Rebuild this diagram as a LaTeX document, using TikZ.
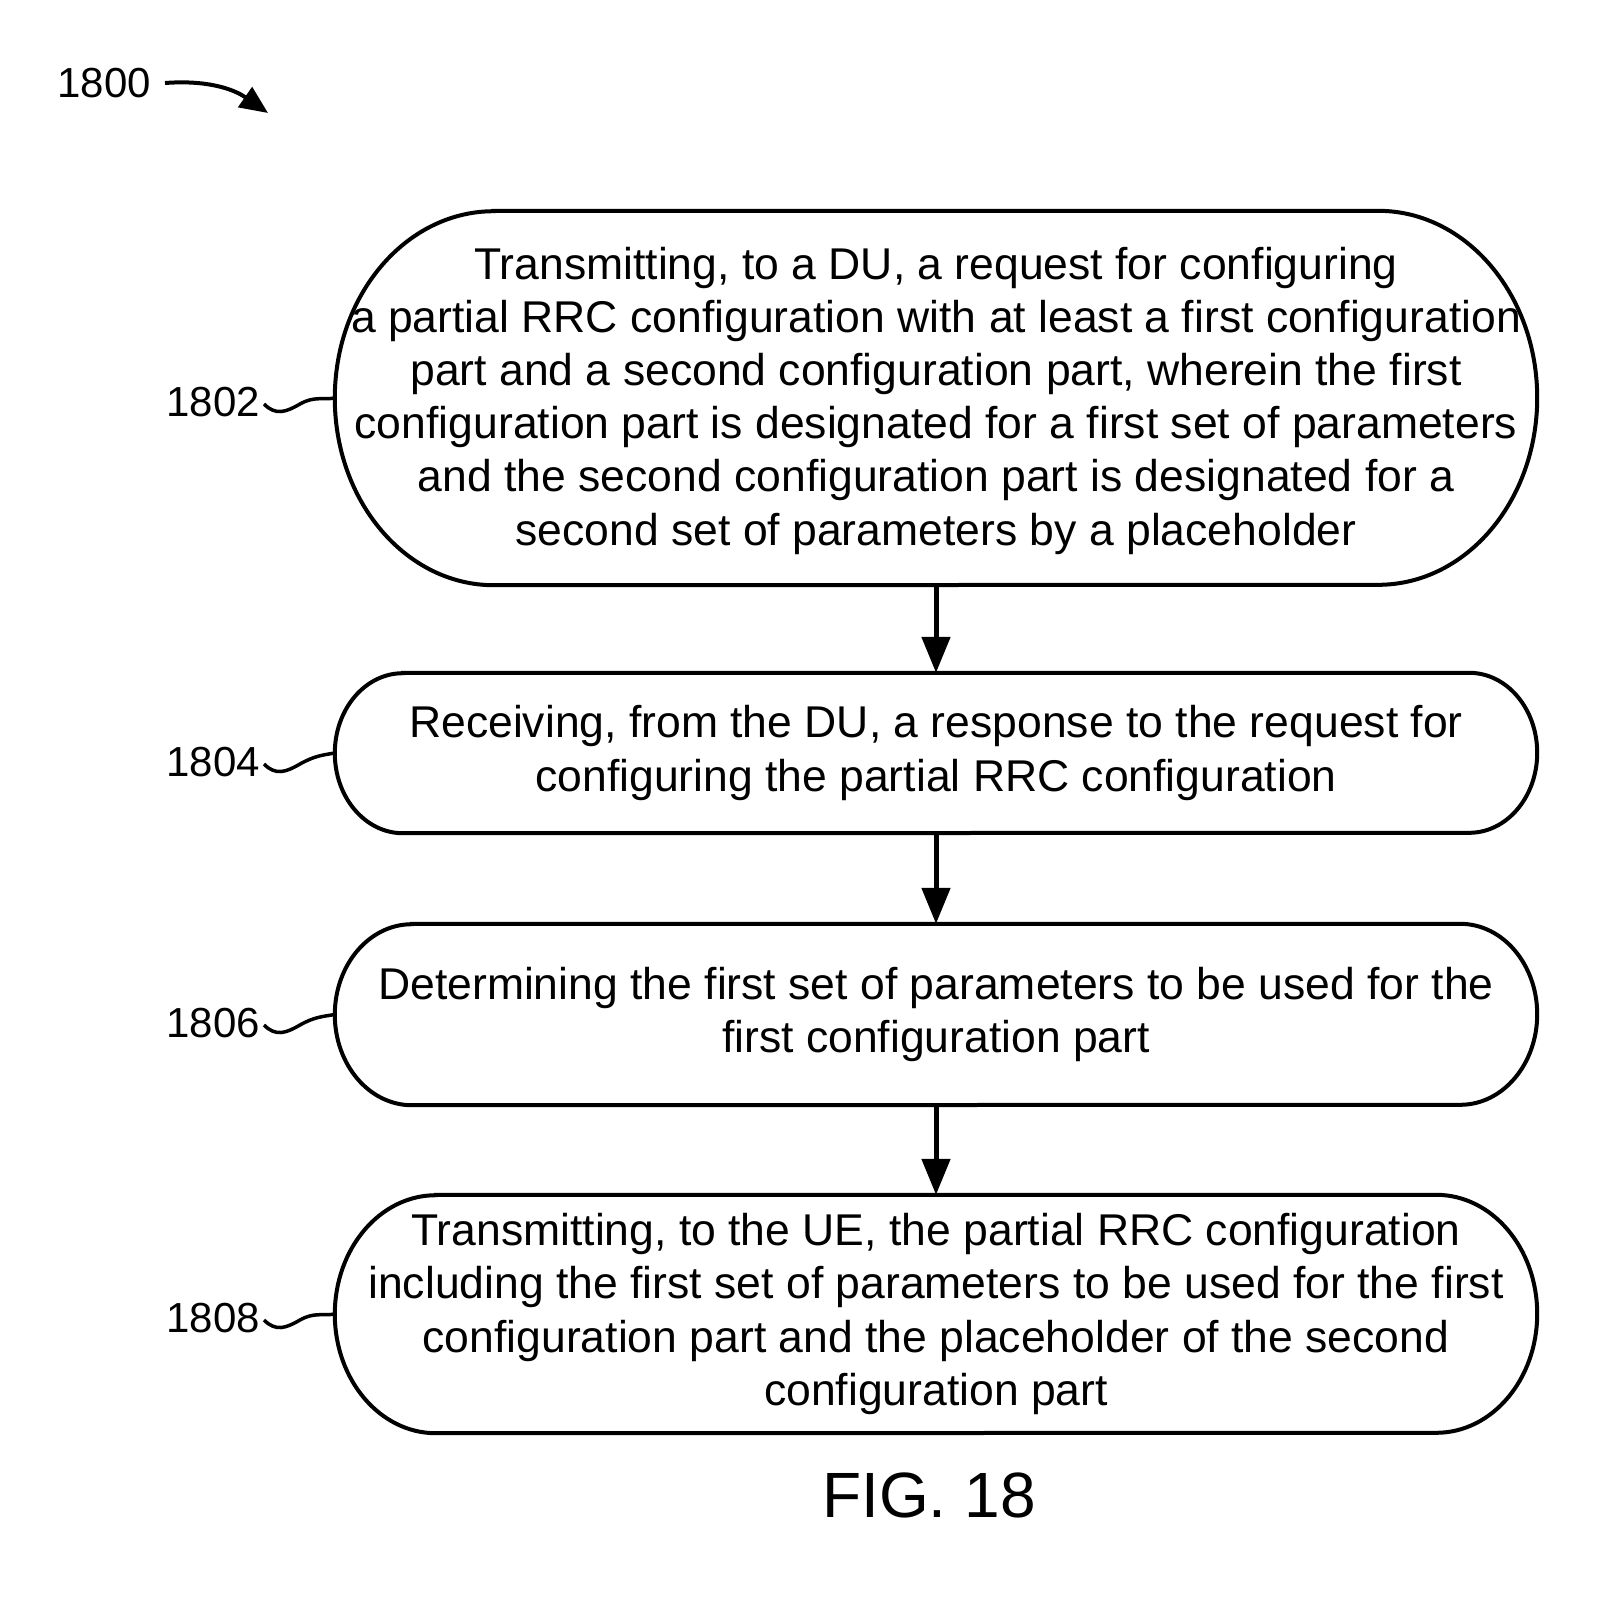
\documentclass[tikz,border=0pt]{standalone}
\usepackage{fontspec}
\setmainfont{Liberation Sans}
\usetikzlibrary{arrows.meta}
\newcommand{\stadiumoutline}[3]{%
  \draw[boxline] ([xshift=#2pt]#1.north west) -- ([xshift=-#2pt]#1.north east)
    arc[start angle=90,end angle=-90,x radius=#2pt,y radius=#3pt]
    -- ([xshift=#2pt]#1.south west)
    arc[start angle=270,end angle=90,x radius=#2pt,y radius=#3pt] -- cycle;}
\tikzset{
  stepbox/.style={inner sep=0pt, minimum width=1202pt, align=center,
    font=\fontsize{44.5}{53.2}\selectfont},
  boxline/.style={line width=4pt, black},
  flowarrow/.style={line width=5pt, -{Triangle[width=28pt,length=36pt]}},
  reflabel/.style={inner sep=0pt, anchor=east, font=\fontsize{42}{48}\selectfont},
  squiggle/.style={line width=3.5pt},
}
\begin{document}
\begin{tikzpicture}[x=1pt,y=1pt]
\useasboundingbox (0,0) rectangle (1615,-1599);
\fill[white] (0,0) rectangle (1615,-1599);

\node[reflabel] (l1800) at (151,-83) {1800};
\coordinate (tip1800) at (268,-113);
\draw[line width=4pt, -{Triangle[width=24pt,length=28pt]}] ([xshift=14pt]l1800.east) .. controls (205,-80) and (232,-88) .. (tip1800);

\node[stepbox, minimum height=374pt] (b1) at (936,-398) {\strut Transmitting, to a DU, a request for configuring\\a partial RRC configuration with at least a first configuration\\part and a second configuration part, wherein the first\\configuration part is designated for a first set of parameters\\and the second configuration part is designated for a\\second set of parameters by a placeholder};
\stadiumoutline{b1}{159}{187}

\node[stepbox, minimum height=160pt] (b2) at (936,-753) {Receiving, from the DU, a response to the request for\\configuring the partial RRC configuration};
\stadiumoutline{b2}{68}{80}

\node[stepbox, minimum height=181pt] (b3) at (936,-1014.5) {Determining the first set of parameters to be used for the\\first configuration part};
\stadiumoutline{b3}{77}{90.5}

\node[stepbox, minimum height=238pt] (b4) at (936,-1314) {Transmitting, to the UE, the partial RRC configuration\\including the first set of parameters to be used for the first\\configuration part and the placeholder of the second\\configuration part};
\stadiumoutline{b4}{101}{119}

\draw[flowarrow] (b1.south) -- (b2.north);
\draw[flowarrow] (b2.south) -- (b3.north);
\draw[flowarrow] (b3.south) -- (b4.north);

\node[reflabel] (l1802) at (260,-402) {1802};
\node[reflabel] (l1804) at (260,-762) {1804};
\node[reflabel] (l1806) at (260,-1023) {1806};
\node[reflabel] (l1808) at (260,-1318) {1808};

\foreach \l/\b in {l1802/b1,l1804/b2,l1806/b3,l1808/b4}{
  \draw[squiggle] ([xshift=4pt,yshift=-2pt]\l.east) .. controls +(12pt,-12pt) and +(-14pt,-8pt) .. ([xshift=40pt,yshift=-2pt]\l.east) .. controls +(14pt,8pt) and +(-12pt,-2pt) .. (\b.west);
}

\node[inner sep=0pt, font=\fontsize{64}{70}\selectfont] (fig) at (929,-1495) {FIG. 18};
\end{tikzpicture}
\end{document}
